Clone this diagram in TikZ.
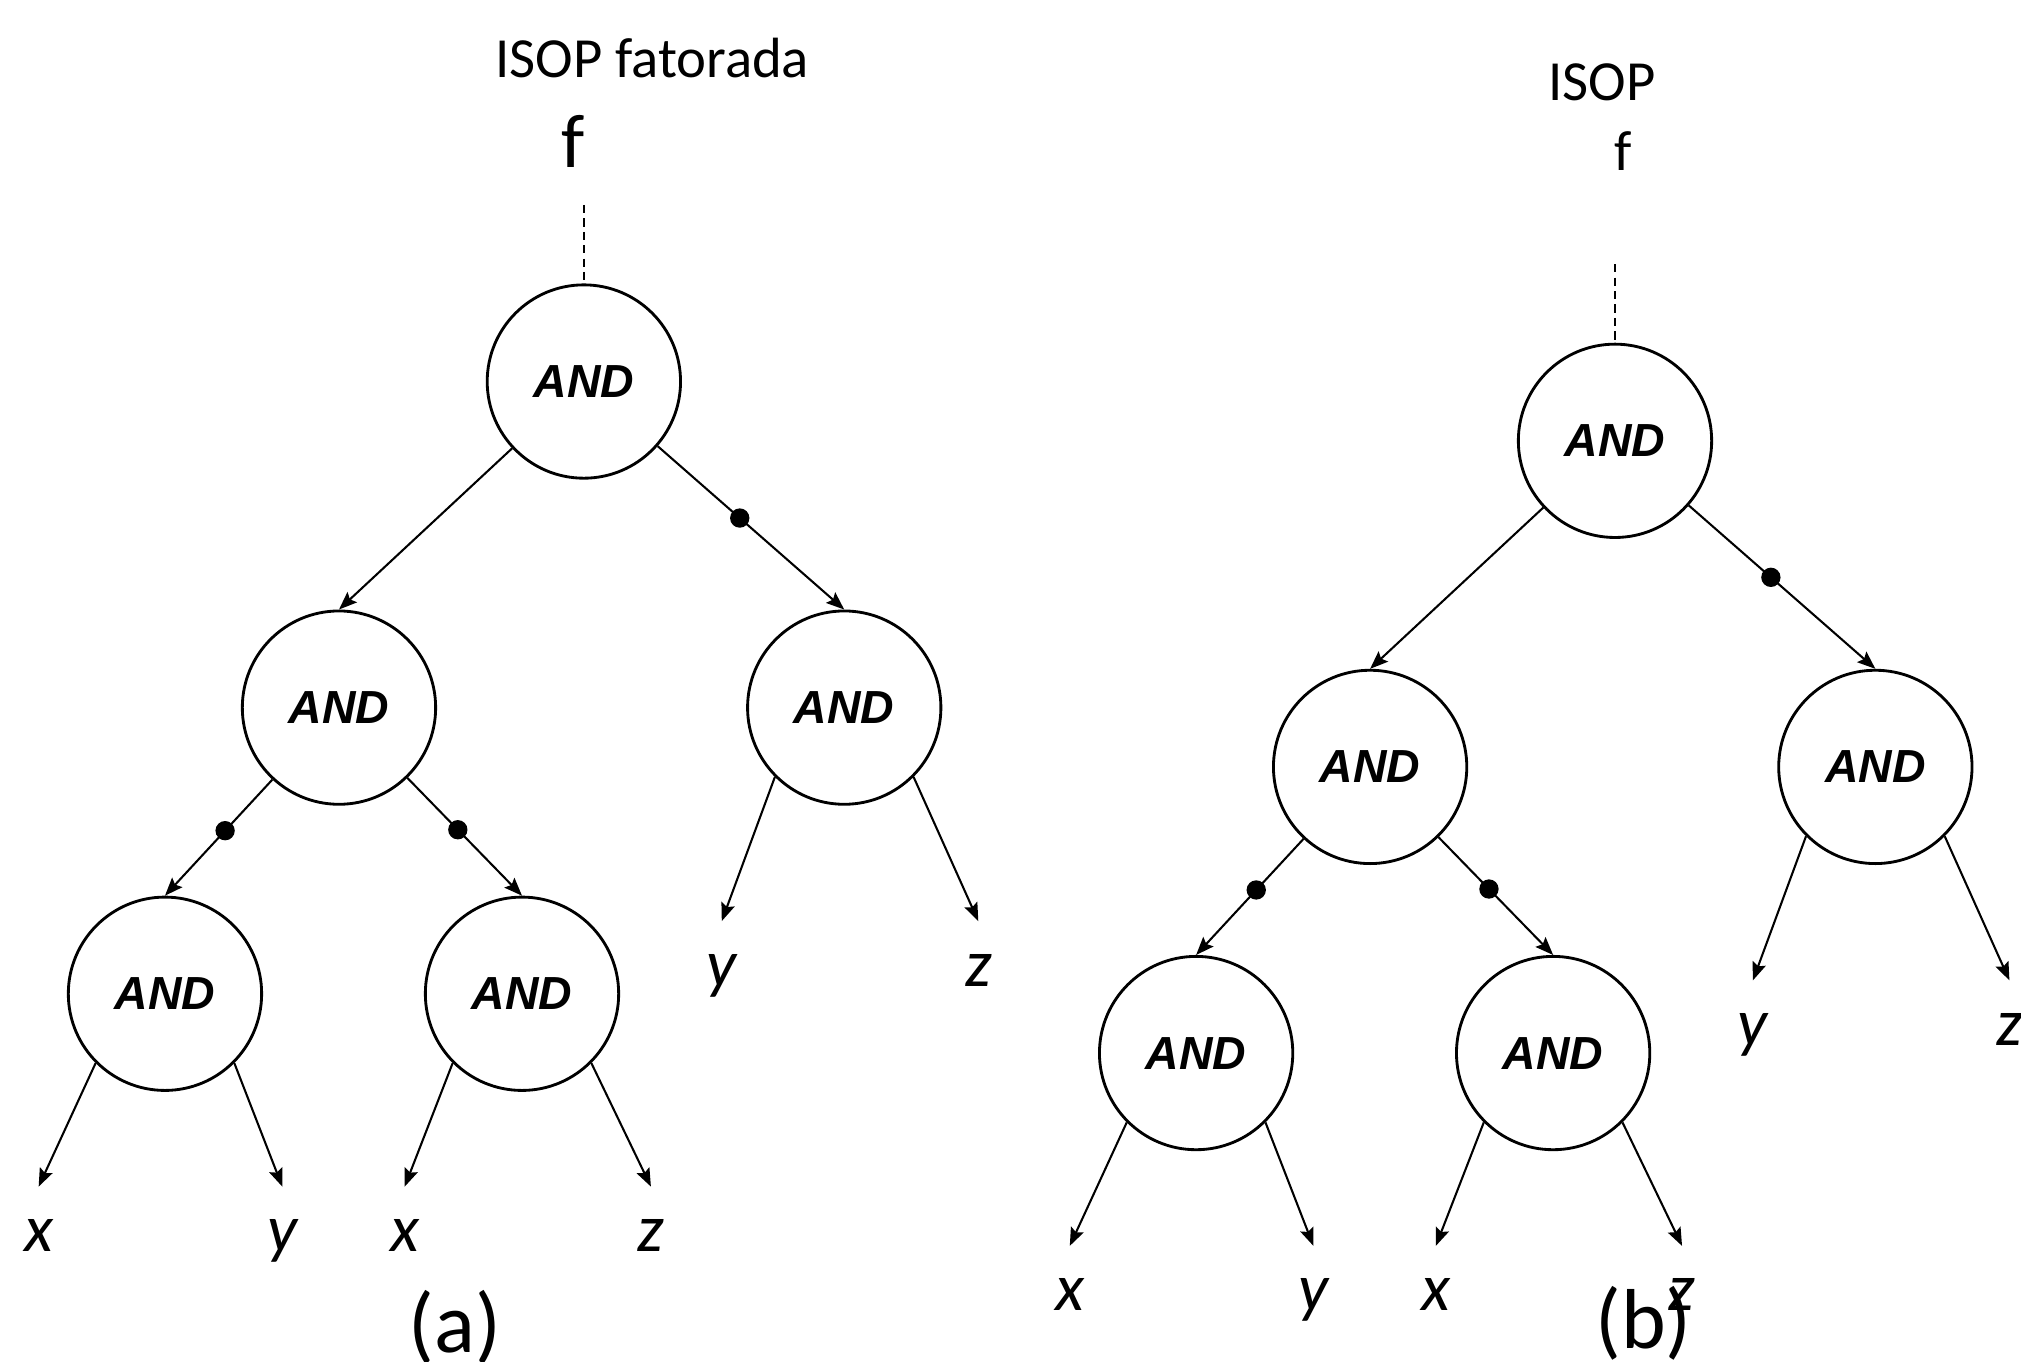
\documentclass[tikz,border=0pt]{standalone}
\usepackage{fontspec}
\setmainfont{Carlito}
\newfontfamily\gatefont{Liberation Sans}
\usetikzlibrary{arrows.meta}

\tikzset{
  gate/.style={circle, draw, line width=1.1pt, minimum size=75pt, inner sep=0pt,
    font=\gatefont\bfseries\itshape\fontsize{18}{18}\selectfont},
  leaf/.style={anchor=base, inner sep=0pt, text height=25pt, text depth=0pt,
    font=\itshape\fontsize{26}{26}\selectfont},
  wire/.style={line width=0.8pt, -{Stealth[length=7pt,width=5.4pt,inset=1.2pt]}},
  bubble/.style={circle, fill=black, inner sep=0pt, minimum size=7.5pt, pos=0.44},
  feed/.style={line width=0.7pt, dash pattern=on 3.2pt off 2pt},
  caption/.style={anchor=base, inner sep=0pt},
}

% One AND tree; #1 prefixes the node names
\newcommand\andtree[1]{%
  \node[gate] (#1root) at (453,296) {AND};
  \node[gate] (#1ml)   at (263,549) {AND};
  \node[gate] (#1mr)   at (655,549) {AND};
  \node[gate] (#1bl)   at (128,771) {AND};
  \node[gate] (#1br)   at (405,771) {AND};
  \node[leaf] (#1l1) at (30,971)  {x};
  \node[leaf] (#1l2) at (219,971) {y};
  \node[leaf] (#1l3) at (314,971) {x};
  \node[leaf] (#1l4) at (505,971) {z};
  \node[leaf] (#1l5) at (560,765) {y};
  \node[leaf] (#1l6) at (759,765) {z};
  \coordinate (#1top) at (453,159);
  \draw[feed] (#1top) -- (#1root);
  \draw[wire] (#1root) -- (#1ml.north);
  \draw[wire] (#1root) -- node[bubble] {} (#1mr.north);
  \draw[wire] (#1ml) -- node[bubble] {} (#1bl.north);
  \draw[wire] (#1ml) -- node[bubble] {} (#1br.north);
  \draw[wire] (#1bl.-135) -- (#1l1.north);
  \draw[wire] (#1bl.-45)  -- (#1l2.north);
  \draw[wire] (#1br.-135) -- (#1l3.north);
  \draw[wire] (#1br.-45)  -- (#1l4.north);
  \draw[wire] (#1mr.-135) -- (#1l5.north);
  \draw[wire] (#1mr.-45)  -- (#1l6.north);
}

\begin{document}
\begin{tikzpicture}[x=0.5pt, y=-0.5pt]
  \path[use as bounding box, fill=white] (0,0) rectangle (1568,1056);

  % (a) factored ISOP
  \node[caption, font=\fontsize{22}{22}\selectfont] (titleA) at (506,60) {ISOP fatorada};
  \node[caption, font=\fontsize{29.5}{29.5}\selectfont] (fA) at (445,130) {f};
  \andtree{a}
  \node[caption, font=\fontsize{33}{33}\selectfont] (capA) at (353,1049) {(a)};

  % (b) ISOP
  \node[caption, font=\fontsize{22}{22}\selectfont] (titleB) at (1243,78) {ISOP};
  \node[caption, font=\fontsize{22}{22}\selectfont] (fB) at (1259,132) {f};
  \begin{scope}[shift={(800,46)}]
    \andtree{b}
  \end{scope}
  \node[caption, font=\fontsize{33}{33}\selectfont] (capB) at (1275,1046) {(b)};
\end{tikzpicture}
\end{document}
